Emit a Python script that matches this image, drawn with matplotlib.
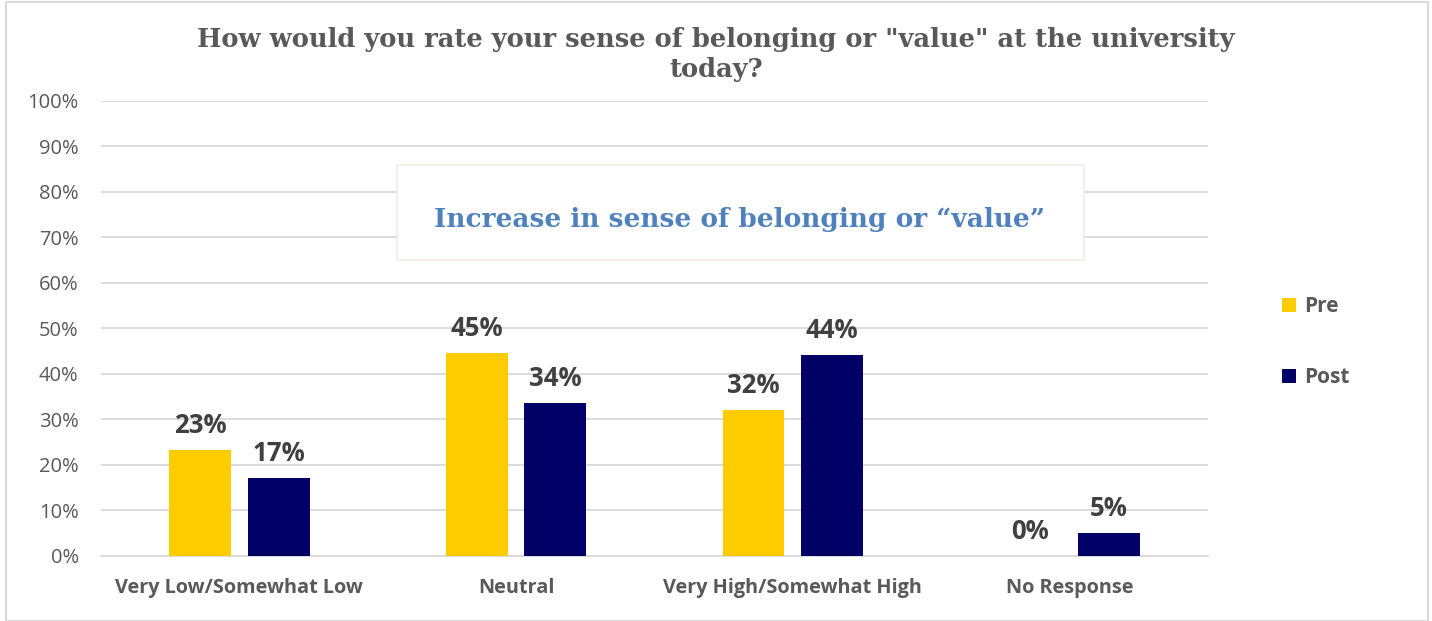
import numpy as np
import matplotlib.pyplot as plt
from matplotlib.patches import Rectangle

categories = ['Very Low/Somewhat Low', 'Neutral', 'Very High/Somewhat High', 'No Response']
pre = [0.234, 0.446, 0.321, 0.0]
post = [0.172, 0.336, 0.442, 0.051]
series = ['Pre', 'Post']
colors = ['#FFCC00', '#000066']

grey = '#595959'
fig = plt.figure(figsize=(14.32, 6.21), dpi=100)
fig.patches.append(Rectangle((0.004, 0.0), 0.993, 0.996, transform=fig.transFigure,
                             fill=False, edgecolor='#d9d9d9', linewidth=1.5))
ax = fig.add_axes([0.0705, 0.1047, 0.773, 0.7327])

x = np.arange(len(categories))
w = 0.224
off = 0.142
b1 = ax.bar(x - off, pre, w, color=colors[0], label=series[0], zorder=3)
b2 = ax.bar(x + off, post, w, color=colors[1], label=series[1], zorder=3)

for bars, vals in [(b1, pre), (b2, post)]:
    for r, v in zip(bars, vals):
        ax.text(r.get_x() + r.get_width() / 2, v + 0.024, f'{v*100:.0f}%',
                ha='center', va='bottom', fontsize=18.5, fontweight='bold',
                color='#404040', family='Open Sans')

ax.set_xlim(-0.5, 3.5)
ax.set_ylim(0, 1)
ax.set_yticks(np.arange(0, 1.01, 0.1))
ax.set_yticklabels([f'{int(round(t*100))}%' for t in np.arange(0, 1.01, 0.1)],
                   fontsize=14.5, color=grey, family='Open Sans')
ax.set_xticks(x)
ax.set_xticklabels(categories, fontsize=14.3, fontweight='bold', color=grey, family='Open Sans')
ax.tick_params(axis='x', length=0, pad=16)
ax.tick_params(axis='y', length=0, pad=16)
ax.grid(axis='y', color='#d9d9d9', linewidth=1.3, zorder=0)
for s in ['top', 'right', 'left']:
    ax.spines[s].set_visible(False)
ax.spines['bottom'].set_color('#d9d9d9')
ax.spines['bottom'].set_linewidth(1.3)

fig.text(0.5, 1 - 40/621, 'How would you rate your sense of belonging or "value" at the university',
         ha='center', va='center', fontsize=18.5, fontweight='bold', color=grey,
         family='DejaVu Serif')
fig.text(0.5, 1 - 70/621, 'today?',
         ha='center', va='center', fontsize=18.5, fontweight='bold', color=grey,
         family='DejaVu Serif')

# annotation box
fig.patches.append(Rectangle((397/1432, 1 - 260/621), 687/1432, 95/621, transform=fig.transFigure,
                             facecolor='white', edgecolor='#f0ede5', linewidth=1.2, zorder=5))
fig.text(740/1432, 1 - 219/621, 'Increase in sense of belonging or \u201cvalue\u201d',
         ha='center', va='center', fontsize=19, fontweight='bold', color='#4f81bd',
         family='DejaVu Serif', zorder=6)

leg = fig.legend(handles=[b1, b2], loc='center left', bbox_to_anchor=(0.882, 0.449),
                 frameon=False, handlelength=0.7, handleheight=0.7, labelspacing=2.4,
                 handletextpad=0.35, prop={'family': 'Open Sans', 'weight': 'bold', 'size': 15})
for t in leg.get_texts():
    t.set_color(grey)

fig.savefig('out.png', dpi=100)
